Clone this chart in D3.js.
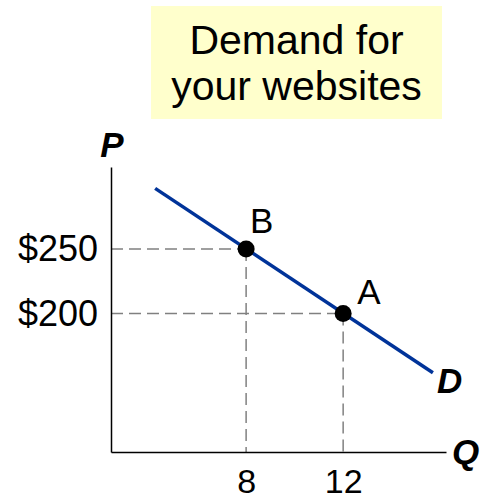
<!DOCTYPE html>
<html>
<head>
<meta charset="utf-8">
<script src="https://cdn.jsdelivr.net/npm/d3@7"></script>
<style>
  html, body { margin: 0; padding: 0; background: #fff; }
  svg { display: block; font-family: "Liberation Sans", Arial, sans-serif; }
</style>
</head>
<body>
<svg id="chart" width="490" height="499"></svg>
<script>
// Title lines
const titleLines = ["Demand for", "your websites"];

// Demand curve endpoints (quantity, price)
const demandQ = [4.25, 15.7];
const demandP = [297, 154];

// Labelled points on the curve
const pointNames = ["B", "A"];
const pointQ = [8, 12];
const pointP = [250, 200];

// Axis tick values and labels
const qTicks = [8, 12];
const pTicks = [200, 250];
const pTickLabels = ["$200", "$250"];

const svg = d3.select("#chart");

// Scales (axes start away from zero, as in a schematic diagram)
const x = d3.scaleLinear().domain([2.43, 16.24]).range([111, 446]);
const y = d3.scaleLinear().domain([92.6, 313.6]).range([452, 167]);

// Title box
const titleG = svg.append("g");
titleG.append("rect")
  .attr("x", 151).attr("y", 6).attr("width", 291).attr("height", 113)
  .attr("fill", "#ffffcc");
titleG.selectAll("text").data(titleLines).join("text")
  .attr("x", 296.5)
  .attr("y", (d, i) => 54 + i * 46)
  .attr("text-anchor", "middle")
  .attr("font-size", 41)
  .attr("fill", "#000")
  .text(d => d);

// Guide lines from each point to the axes
const pts = pointNames.map((n, i) => ({ name: n, q: pointQ[i], p: pointP[i] }));
const guides = svg.append("g")
  .attr("stroke", "#808080")
  .attr("stroke-width", 1.5)
  .attr("stroke-dasharray", "12,6")
  .attr("fill", "none");
guides.selectAll("line.h").data(pts).join("line").attr("class", "h")
  .attr("x1", x.range()[0]).attr("x2", d => x(d.q))
  .attr("y1", d => y(d.p)).attr("y2", d => y(d.p));
guides.selectAll("line.v").data(pts).join("line").attr("class", "v")
  .attr("x1", d => x(d.q)).attr("x2", d => x(d.q))
  .attr("y1", d => y(d.p)).attr("y2", y.range()[0]);

// Axes
const xAxis = d3.axisBottom(x).tickValues(qTicks).tickSize(0).tickPadding(17);
const yAxis = d3.axisLeft(y).tickValues(pTicks).tickSize(0).tickPadding(13)
  .tickFormat(d => pTickLabels[pTicks.indexOf(d)]);

const gx = svg.append("g").attr("transform", `translate(0,${y.range()[0]})`).call(xAxis);
const gy = svg.append("g").attr("transform", `translate(${x.range()[0]},0)`).call(yAxis);
[gx, gy].forEach(g => {
  g.select(".domain").attr("stroke", "#000").attr("stroke-width", 1.5);
  g.selectAll(".tick text")
    .attr("font-family", "Liberation Sans, Arial, sans-serif")
    .attr("fill", "#000");
});
gx.selectAll(".tick text").attr("font-size", 34);
gy.selectAll(".tick text").attr("font-size", 36);

// Axis titles
svg.append("text")
  .attr("x", 112).attr("y", 157)
  .attr("text-anchor", "middle")
  .attr("font-size", 35).attr("font-weight", "bold").attr("font-style", "italic")
  .text("P");
svg.append("text")
  .attr("x", 452).attr("y", 464)
  .attr("font-size", 35).attr("font-weight", "bold").attr("font-style", "italic")
  .text("Q");

// Demand curve
const demand = demandQ.map((q, i) => [x(q), y(demandP[i])]);
svg.append("path")
  .attr("d", d3.line()(demand))
  .attr("stroke", "#003399")
  .attr("stroke-width", 3.5)
  .attr("fill", "none");
svg.append("text")
  .attr("x", 437).attr("y", 393)
  .attr("font-size", 35).attr("font-weight", "bold").attr("font-style", "italic")
  .text("D");

// Points and their labels (label offsets relative to each point)
const labelOffset = { B: [4, -16], A: [14, -9] };
svg.selectAll("circle.pt").data(pts).join("circle").attr("class", "pt")
  .attr("cx", d => x(d.q)).attr("cy", d => y(d.p)).attr("r", 8.5)
  .attr("fill", "#000");
svg.selectAll("text.pt").data(pts).join("text").attr("class", "pt")
  .attr("x", d => x(d.q) + labelOffset[d.name][0])
  .attr("y", d => y(d.p) + labelOffset[d.name][1])
  .attr("font-size", 35)
  .text(d => d.name);
</script>
</body>
</html>
